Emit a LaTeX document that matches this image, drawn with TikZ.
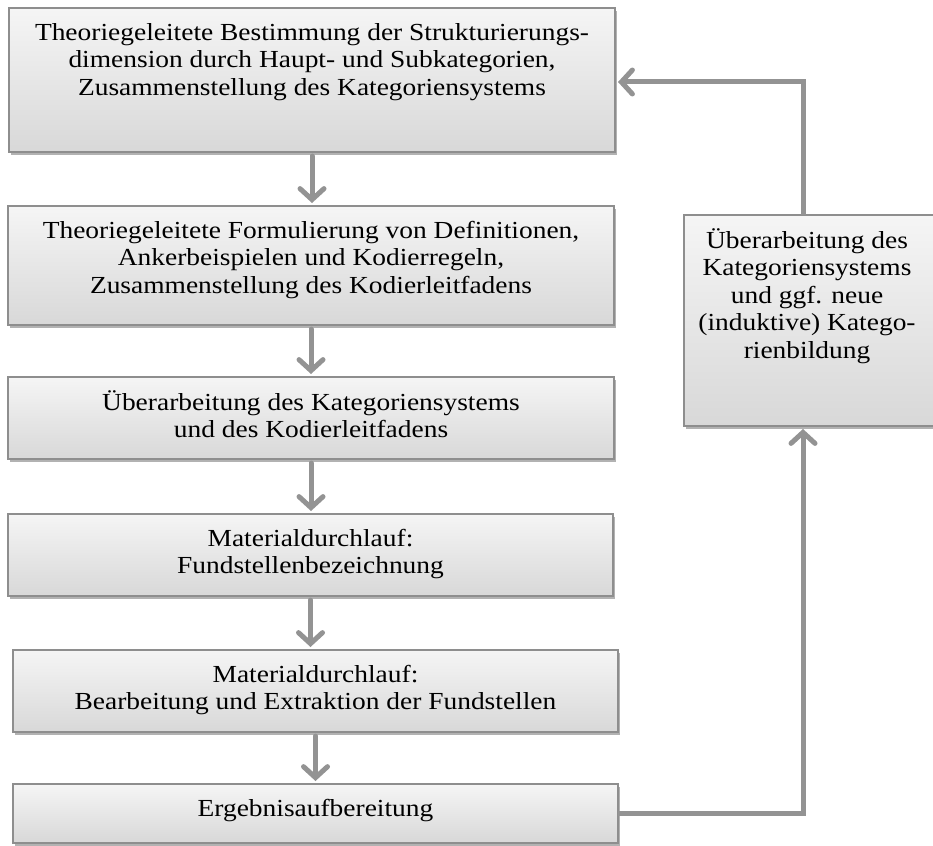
\documentclass[tikz,border=0pt]{standalone}
\usepackage{fontspec}
\setmainfont{Liberation Serif}[FakeStretch=1.12]
\usetikzlibrary{arrows.meta,shadows,calc}
\definecolor{linegray}{HTML}{939393}
\definecolor{bordergray}{HTML}{8E8E8E}
\definecolor{filltop}{HTML}{F5F5F5}
\definecolor{fillbot}{HTML}{D8D8D8}
\tikzset{
  box/.style={draw=bordergray, line width=2pt, top color=filltop, bottom color=fillbot,
    inner sep=0pt, outer sep=0pt, anchor=north west,
    drop shadow={shadow xshift=1.5pt, shadow yshift=-3pt, opacity=0.3, fill=black}},
  txt/.style={inner sep=0pt, anchor=north, align=center, font=\fontsize{24.5}{27.5}\selectfont},
  flow/.style={draw=linegray, line width=5pt, line cap=round,
    -{Straight Barb[length=11pt,width=24pt,line cap=round]}},
}
\begin{document}
\begin{tikzpicture}[x=1pt,y=-1pt]
\useasboundingbox (0,0) rectangle (933,845);
% boxes
\node[box, minimum width=606pt, minimum height=144pt] (b1) at (9,8) {};
\node[box, minimum width=606pt, minimum height=119pt] (b2) at (8,206) {};
\node[box, minimum width=606pt, minimum height=82pt] (b3) at (8,377) {};
\node[box, minimum width=605pt, minimum height=82pt] (b4) at (8,514) {};
\node[box, minimum width=605pt, minimum height=82pt] (b5) at (13,650) {};
\node[box, minimum width=605pt, minimum height=59pt] (b6) at (13,784) {};
\node[box, minimum width=252pt, minimum height=211pt] (b7) at (684,215) {};
% texts
\node[txt] (t1) at ([yshift=-13pt]b1.north) {\strut Theoriegeleitete Bestimmung der Strukturierungs-\\dimension durch Haupt- und Subkategorien,\\Zusammenstellung des Kategoriensystems};
\node[txt] (t2) at ([yshift=-13pt]b2.north) {\strut Theoriegeleitete Formulierung von Definitionen,\\Ankerbeispielen und Kodierregeln,\\Zusammenstellung des Kodierleitfadens};
\node[txt] (t3) at ([yshift=-13pt]b3.north) {\strut Überarbeitung des Kategoriensystems\\und des Kodierleitfadens};
\node[txt] (t4) at ([yshift=-13pt]b4.north) {\strut Materialdurchlauf:\\Fundstellenbezeichnung};
\node[txt] (t5) at ([yshift=-13pt]b5.north) {\strut Materialdurchlauf:\\Bearbeitung und Extraktion der Fundstellen};
\node[txt] (t6) at ([yshift=-13pt]b6.north) {\strut Ergebnisaufbereitung};
\node[txt] (t7) at ([yshift=-13pt,xshift=-3pt]b7.north) {\strut Überarbeitung des\\Kategoriensystems\\und ggf. neue\\(induktive) Katego-\\rienbildung};
% down arrows
\draw[flow, shorten <=4pt, shorten >=3pt] (b1.south) -- (b1.south |- b2.north);
\draw[flow, shorten <=4pt, shorten >=3pt] (b2.south) -- (b2.south |- b3.north);
\draw[flow, shorten <=4pt, shorten >=3pt] (b3.south) -- (b3.south |- b4.north);
\draw[flow, shorten <=4pt, shorten >=3pt] (b4.south) -- (b4.south |- b5.north);
\draw[flow, shorten <=4pt, shorten >=3pt] (b5.south) -- (b5.south |- b6.north);
% feedback loop
\coordinate (c1) at (803,82);
\draw[flow, line cap=butt, shorten >=3pt] (b6.east) -| (c1 |- b7.south);
\draw[flow, line cap=butt, shorten >=3pt] (c1 |- b7.north) -- (c1) -- (c1 -| b1.east);
\end{tikzpicture}
\end{document}
